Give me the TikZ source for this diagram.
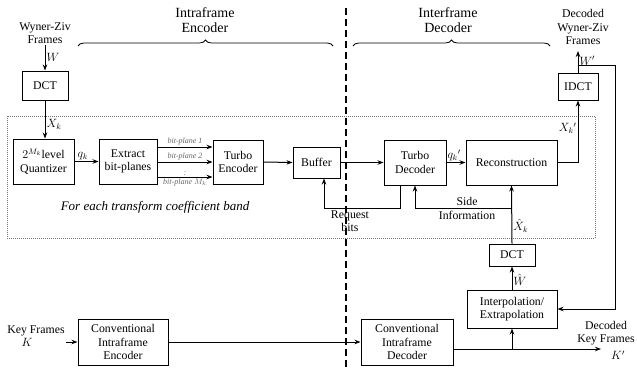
\documentclass[tikz,border=0pt]{standalone}
\usepackage{fontspec}
\setmainfont{Liberation Serif}
\usepackage{amsmath,amssymb}
\usetikzlibrary{arrows.meta,decorations.pathreplacing}

\begin{document}
\begin{tikzpicture}[
		x=1pt,y=-1pt,
		font=\fontsize{11.8}{13.5}\selectfont,
		block/.style={draw,line width=1pt,rectangle,align=center,inner sep=1pt},
		txt/.style={align=center,inner sep=1pt},
		lbl/.style={inner sep=1pt},
		plane/.style={inner sep=0pt,font=\fontsize{8}{9}\selectfont\itshape,text=black!60},
		link/.style={line width=1pt},
		arr/.style={line width=1pt,-{Stealth[length=6pt,width=4.5pt]}},
		ovbrace/.style={decorate,decoration={brace,amplitude=6pt},line width=0.8pt}
		]
		\useasboundingbox (0,0) rectangle (637,370);
		
		\node[txt,font=\fontsize{14}{15}\selectfont] (hdenc) at (205,20) {Intraframe\\Encoder};
		\node[txt,font=\fontsize{14}{15}\selectfont] (hddec) at (448,20) {Interframe\\Decoder};
		\draw[ovbrace] (78,46) -- (333,46);
		\draw[ovbrace] (353,46) -- (550,46);
		\draw[line width=1.6pt,dash pattern=on 7pt off 4pt] (346,8) -- (346,370);
		\draw[black!55,line width=1pt,densely dotted] (7,116) rectangle (595,238);
		
		\node[txt] (wzin) at (45,33) {Wyner-Ziv\\Frames};
		\node[block,minimum width=46,minimum height=29] (dct) at (45,85.5) {DCT};
		\node[block,minimum width=61,minimum height=45] (quant) at (43.5,161.5) {$2^{M_k}$level\\Quantizer};
		\node[block,minimum width=58,minimum height=45] (extract) at (128,161.5) {Extract\\bit-planes};
		\node[block,minimum width=50,minimum height=44] (tenc) at (238,162) {Turbo\\Encoder};
		\node[block,minimum width=47,minimum height=31] (buffer) at (316.5,162.5) {Buffer};
		\node[block,minimum width=62,minimum height=45] (tdec) at (415,162.5) {Turbo\\Decoder};
		\node[block,minimum width=91,minimum height=45] (recon) at (511.5,162.5) {Reconstruction};
		\node[block,minimum width=40,minimum height=27] (idct) at (578,86.5) {IDCT};
		\node[txt] (wzout) at (583,27) {Decoded\\Wyner-Ziv\\Frames};
		\node[block,minimum width=46,minimum height=22] (dcts) at (512,255) {DCT};
		\node[block,minimum width=90,minimum height=38] (interp) at (512,309) {Interpolation/\\Extrapolation};
		\node[block,minimum width=90,minimum height=46] (cie) at (123,342) {Conventional\\Intraframe\\Encoder};
		\node[block,minimum width=92,minimum height=46] (cid) at (407,342) {Conventional\\Intraframe\\Decoder};
		\node[txt] (keyin) at (36,336) {Key Frames\\[-1pt]$K$\hspace*{18pt}};
		\node[txt] (keyout) at (606,333) {Decoded\\Key Frames};
		\node[txt,font=\fontsize{13}{14}\selectfont\itshape] (band) at (155,207) {For each transform coefficient band};
		
		\coordinate (wtop) at (578,51);
		\coordinate (wbr) at (578,65);
		\coordinate (rqdn) at (400,208);
		\coordinate (rqup) at (324,208);
		\coordinate (sibr) at (512,208);
		\coordinate (kbr) at (512,349);
		\coordinate (kend) at (601,349);
		
		\draw[arr] (wzin.south) -- node[lbl,right] {$W$} (dct.north);
		\draw[arr] (dct.south) -- node[lbl,right,pos=0.62] {$X_k$} (quant.north -| dct.south);
		\draw[arr] (quant.east) -- node[lbl,above,pos=0.35] {$q_k$} (extract.east -| extract.west);
		\draw[arr] (extract.east |- 0,147) -- node[plane,above=1pt] {bit-plane \textit{1}} (tenc.west |- 0,147);
		\draw[arr] (extract.east |- 0,162) -- node[plane,above=1pt] {bit-plane \textit{2}} (tenc.west |- 0,162);
		\draw[arr] (extract.east |- 0,177) -- node[plane,above=1pt] {:} node[plane,below=1pt] {bit-plane $M_k$} (tenc.west |- 0,177);
		\draw[arr] (tenc.east) -- (buffer.west);
		\draw[arr] (buffer.east) -- (tdec.west);
		\draw[arr] (tdec.east) -- node[lbl,above,pos=0.4] {$q_k{}'$} (recon.west);
		\draw[arr] (recon.east) -| node[lbl,above left,pos=0.72] {$X_k{}'$} (idct.south);
		\draw[arr] (idct.north) -- node[lbl,right,pos=0.55] {$W'$} (wtop);
		\draw[arr] (wbr) -| (615,309) -- (interp.east);
		\draw[arr] (tdec.south -| rqdn) -- (rqdn) -- (rqup) -- (buffer.south -| rqup);
		\node[txt] (rqlbl) at (350,221) {Request\\bits};
		\draw[arr] (dcts.north) -- node[lbl,right,pos=0.3] {$\hat{X}_k$} (recon.south);
		\draw[arr] (sibr) -| (tdec.south);
		\node[txt] (silbl) at (467,208.5) {Side\\Information};
		\draw[arr] (interp.north) -- node[lbl,right,pos=0.4] {$\hat{W}$} (dcts.south);
		\draw[arr] (keyin.east |- cie.west) -- (cie.west);
		\draw[arr] (cie.east) -- (cid.west);
		\draw[arr] (cid.east |- kbr) -- (kend);
		\draw[arr] (kbr) -- (interp.south);
		\node[lbl] (kout) at (618,355) {$K'$};
		
\end{tikzpicture}
\end{document}
